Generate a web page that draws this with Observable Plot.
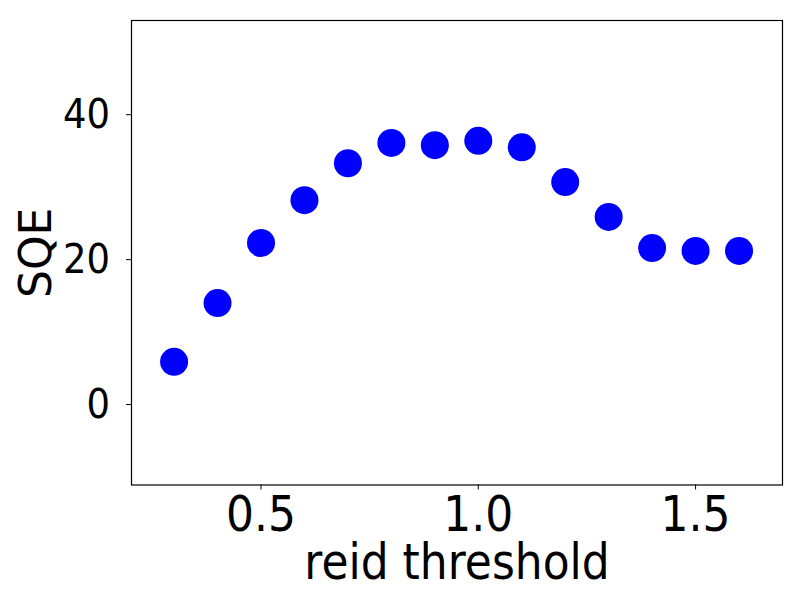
<!DOCTYPE html>
<html>
<head>
<meta charset="utf-8">
<script src="https://cdn.jsdelivr.net/npm/d3@7"></script>
<script src="https://cdn.jsdelivr.net/npm/@observablehq/plot@0.6"></script>
<style>
  html, body { margin: 0; padding: 0; background: white; }
  svg { display: block; }
</style>
</head>
<body>
<div id="chart"></div>
<script>
const thresholds = [0.3, 0.4, 0.5, 0.6, 0.7, 0.8, 0.9, 1.0, 1.1, 1.2, 1.3, 1.4, 1.5, 1.6];
const sqe = [5.9, 14.0, 22.3, 28.2, 33.3, 36.1, 35.8, 36.4, 35.5, 30.7, 25.9, 21.6, 21.2, 21.2];
const xTicks = [0.5, 1.0, 1.5];
const yTicks = [0, 20, 40];
const xLabel = "reid threshold";
const yLabel = "SQE";

const data = thresholds.map((t, i) => ({t, v: sqe[i]}));

const chart = Plot.plot({
  width: 800,
  height: 600,
  marginLeft: 131,
  marginRight: 18,
  marginTop: 20,
  marginBottom: 115.5,
  style: {fontFamily: "DejaVu Sans", fontSize: "44px", color: "black", background: "white"},
  x: {domain: [0.202, 1.7]},
  y: {domain: [-11.1, 53]},
  marks: [
    Plot.frame({stroke: "black", strokeWidth: 1.2}),
    Plot.axisX({ticks: xTicks, tickFormat: d3.format(".1f"), tickSize: 5, tickPadding: 8, label: null, fontSize: 44}),
    Plot.axisY({ticks: yTicks, tickSize: 5, tickPadding: 16.5, label: null, fontSize: 37}),
    Plot.dot(data, {x: "t", y: "v", r: 14, fill: "blue", stroke: "none"}),
    Plot.text([xLabel], {frameAnchor: "bottom", lineAnchor: "middle", textAnchor: "middle", dy: 77.6, fontSize: 44, fill: "black"}),
    Plot.text([yLabel], {frameAnchor: "left", lineAnchor: "middle", textAnchor: "middle", dx: -94.7, rotate: -90, fontSize: 44, fill: "black", className: "ylabel"})
  ]
});
document.getElementById("chart").appendChild(chart);

// The reference's horizontal glyphs are slightly taller than wide: stretch them vertically (in their own frame).
const sy = 1.12;
chart.querySelectorAll("text").forEach(t => {
  if (t.textContent === yLabel) return;
  const bb = t.getBBox();
  const cx = bb.x + bb.width / 2, cy = bb.y + bb.height / 2;
  const tr = t.getAttribute("transform") || "";
  t.setAttribute("transform", `${tr} translate(${cx},${cy}) scale(1,${sy}) translate(${-cx},${-cy})`.trim());
});
</script>
</body>
</html>
